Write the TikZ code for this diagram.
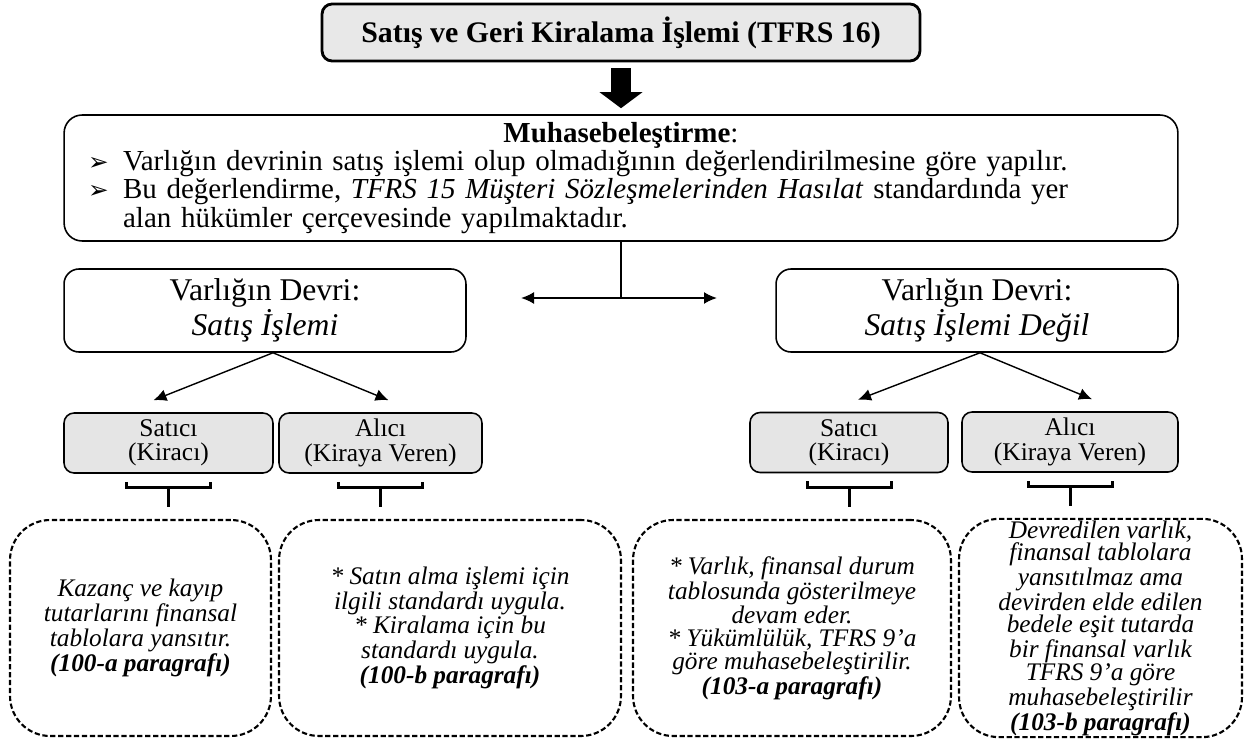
\documentclass[tikz,border=0pt]{standalone}
\usepackage{fontspec}
\setmainfont{Liberation Serif}
\newfontfamily\symfont{DejaVu Sans}
\usetikzlibrary{shapes.geometric, arrows, arrows.meta}

\newcommand{\bulletmark}{\makebox[0.7cm][l]{\symfont\fontsize{14}{14}\selectfont ➢}}

\begin{document}
\begin{tikzpicture}[
    x=0.02cm, y=-0.02cm,
    auto,
    >={Latex[length=0.26cm, width=0.24cm]},
    headbox/.style={draw, line width=1.6pt, rounded corners=0.2cm, fill=gray!18, minimum width=11.96cm, minimum height=1.14cm, font=\fontsize{17}{20}\selectfont\bfseries},
    infobox/.style={draw, line width=0.9pt, rounded corners=0.36cm, minimum width=22.28cm, minimum height=2.52cm, text width=21.32cm, align=left, font=\fontsize{16.5}{16}\selectfont},
    casebox/.style={draw, line width=0.9pt, rounded corners=0.3cm, minimum width=8.04cm, minimum height=1.66cm, align=center, font=\fontsize{18}{16}\selectfont},
    rolebox/.style={draw, line width=0.9pt, rounded corners=0.2cm, fill=gray!20, minimum height=1.2cm, align=center, font=\fontsize{14.5}{13.8}\selectfont},
    notebox/.style={draw, line width=1.2pt, dash pattern=on 3pt off 1.5pt, rounded corners=0.8cm, minimum height=4.32cm, inner sep=1pt, align=center, font=\fontsize{14.4}{12.9}\selectfont\itshape},
    bigarrow/.style={line width=0.4cm, -{Triangle[width=0.84cm, length=0.32cm]}},
    link/.style={line width=1.1pt},
    brack/.style={line width=1.7pt}
]
    \useasboundingbox (0,0) rectangle (1250,743);

    % Node placement
    \node (head) [headbox] at (621,32.5) {Satış ve Geri Kiralama İşlemi (TFRS 16)};
    \node (muh) [infobox] at (621,178) {%
        \makebox[21.32cm]{\textbf{Muhasebeleştirme}:}\\
        \bulletmark Varlığın devrinin satış işlemi olup olmadığının değerlendirilmesine göre yapılır.\\
        \bulletmark Bu değerlendirme, \textit{TFRS 15 Müşteri Sözleşmelerinden Hasılat} standardında yer\\
        \hspace*{0.7cm}alan hükümler çerçevesinde yapılmaktadır.};

    \node (sale) [casebox] at (265,310.5) {Varlığın Devri:\\ \textit{Satış İşlemi}};
    \node (nosale) [casebox] at (977,310.5) {Varlığın Devri:\\ \textit{Satış İşlemi Değil}};

    \node (saleS) [rolebox, minimum width=4.18cm] at (168.5,443) {Satıcı\\(Kiracı)};
    \node (saleB) [rolebox, minimum width=4.06cm] at (380.5,443) {Alıcı\\(Kiraya Veren)};
    \node (nosaleS) [rolebox, minimum width=3.96cm] at (849,442.5) {Satıcı\\(Kiracı)};
    \node (nosaleB) [rolebox, minimum width=4.32cm] at (1070,442) {Alıcı\\(Kiraya Veren)};

    \node (n1) [notebox, minimum width=5.22cm] at (140.5,628) {Kazanç ve kayıp\\tutarlarını finansal\\tablolara yansıtır.\\\textbf{(100-a paragrafı)}};
    \node (n2) [notebox, minimum width=6.84cm] at (450,628) {* Satın alma işlemi için\\ilgili standardı uygula.\\* Kiralama için bu\\standardı uygula.\\\textbf{(100-b paragrafı)}};
    \node (n3) [notebox, minimum width=6.36cm] at (792,628) {* Varlık, finansal durum\\tablosunda gösterilmeye\\devam eder.\\* Yükümlülük, TFRS 9’a\\göre muhasebeleştirilir.\\\textbf{(103-a paragrafı)}};
    \node (n4) [notebox, minimum width=5.66cm] at (1100.5,628) {Devredilen varlık,\\finansal tablolara\\yansıtılmaz ama\\devirden elde edilen\\bedele eşit tutarda\\bir finansal varlık\\TFRS 9’a göre\\muhasebeleştirilir\\\textbf{(103-b paragrafı)}};

    \coordinate (split) at (621,298);
    \coordinate (splitL) at (521,298);
    \coordinate (splitR) at (717,298);

    % Arrows
    \draw[bigarrow] ([shift={(0,6)}]head.south) -- ([shift={(0,-6)}]muh.north);
    \draw[link] (muh.south) -- (split);
    \draw[link, <->] (splitL) -- (splitR);

    \path[->, line width=0.8pt] ([shift={(8,0)}]sale.south) edge ([shift={(-15,-12)}]saleS.north)
                                          edge ([shift={(8,-12)}]saleB.north);
    \path[->, line width=0.8pt] ([shift={(3,0)}]nosale.south) edge ([shift={(9,-12)}]nosaleS.north)
                                            edge ([shift={(22,-12)}]nosaleB.north);

    % Brackets
    \draw[brack] ([shift={(-42,8)}]saleS.south) -- ++(0,6) -- ++(84,0) -- ++(0,-6);
    \draw[brack, shorten >=0.24cm] ([shift={(0,14)}]saleS.south) -- (saleS.south |- n1.north);
    \draw[brack] ([shift={(-42,8)}]saleB.south) -- ++(0,6) -- ++(84,0) -- ++(0,-6);
    \draw[brack, shorten >=0.24cm] ([shift={(0,14)}]saleB.south) -- (saleB.south |- n2.north);
    \draw[brack] ([shift={(-42,8)}]nosaleS.south) -- ++(0,6) -- ++(84,0) -- ++(0,-6);
    \draw[brack, shorten >=0.24cm] ([shift={(0,14)}]nosaleS.south) -- (nosaleS.south |- n3.north);
    \draw[brack] ([shift={(-42,8)}]nosaleB.south) -- ++(0,6) -- ++(84,0) -- ++(0,-6);
    \draw[brack, shorten >=0.24cm] ([shift={(0,14)}]nosaleB.south) -- (nosaleB.south |- n4.north);

\end{tikzpicture}
\end{document}
